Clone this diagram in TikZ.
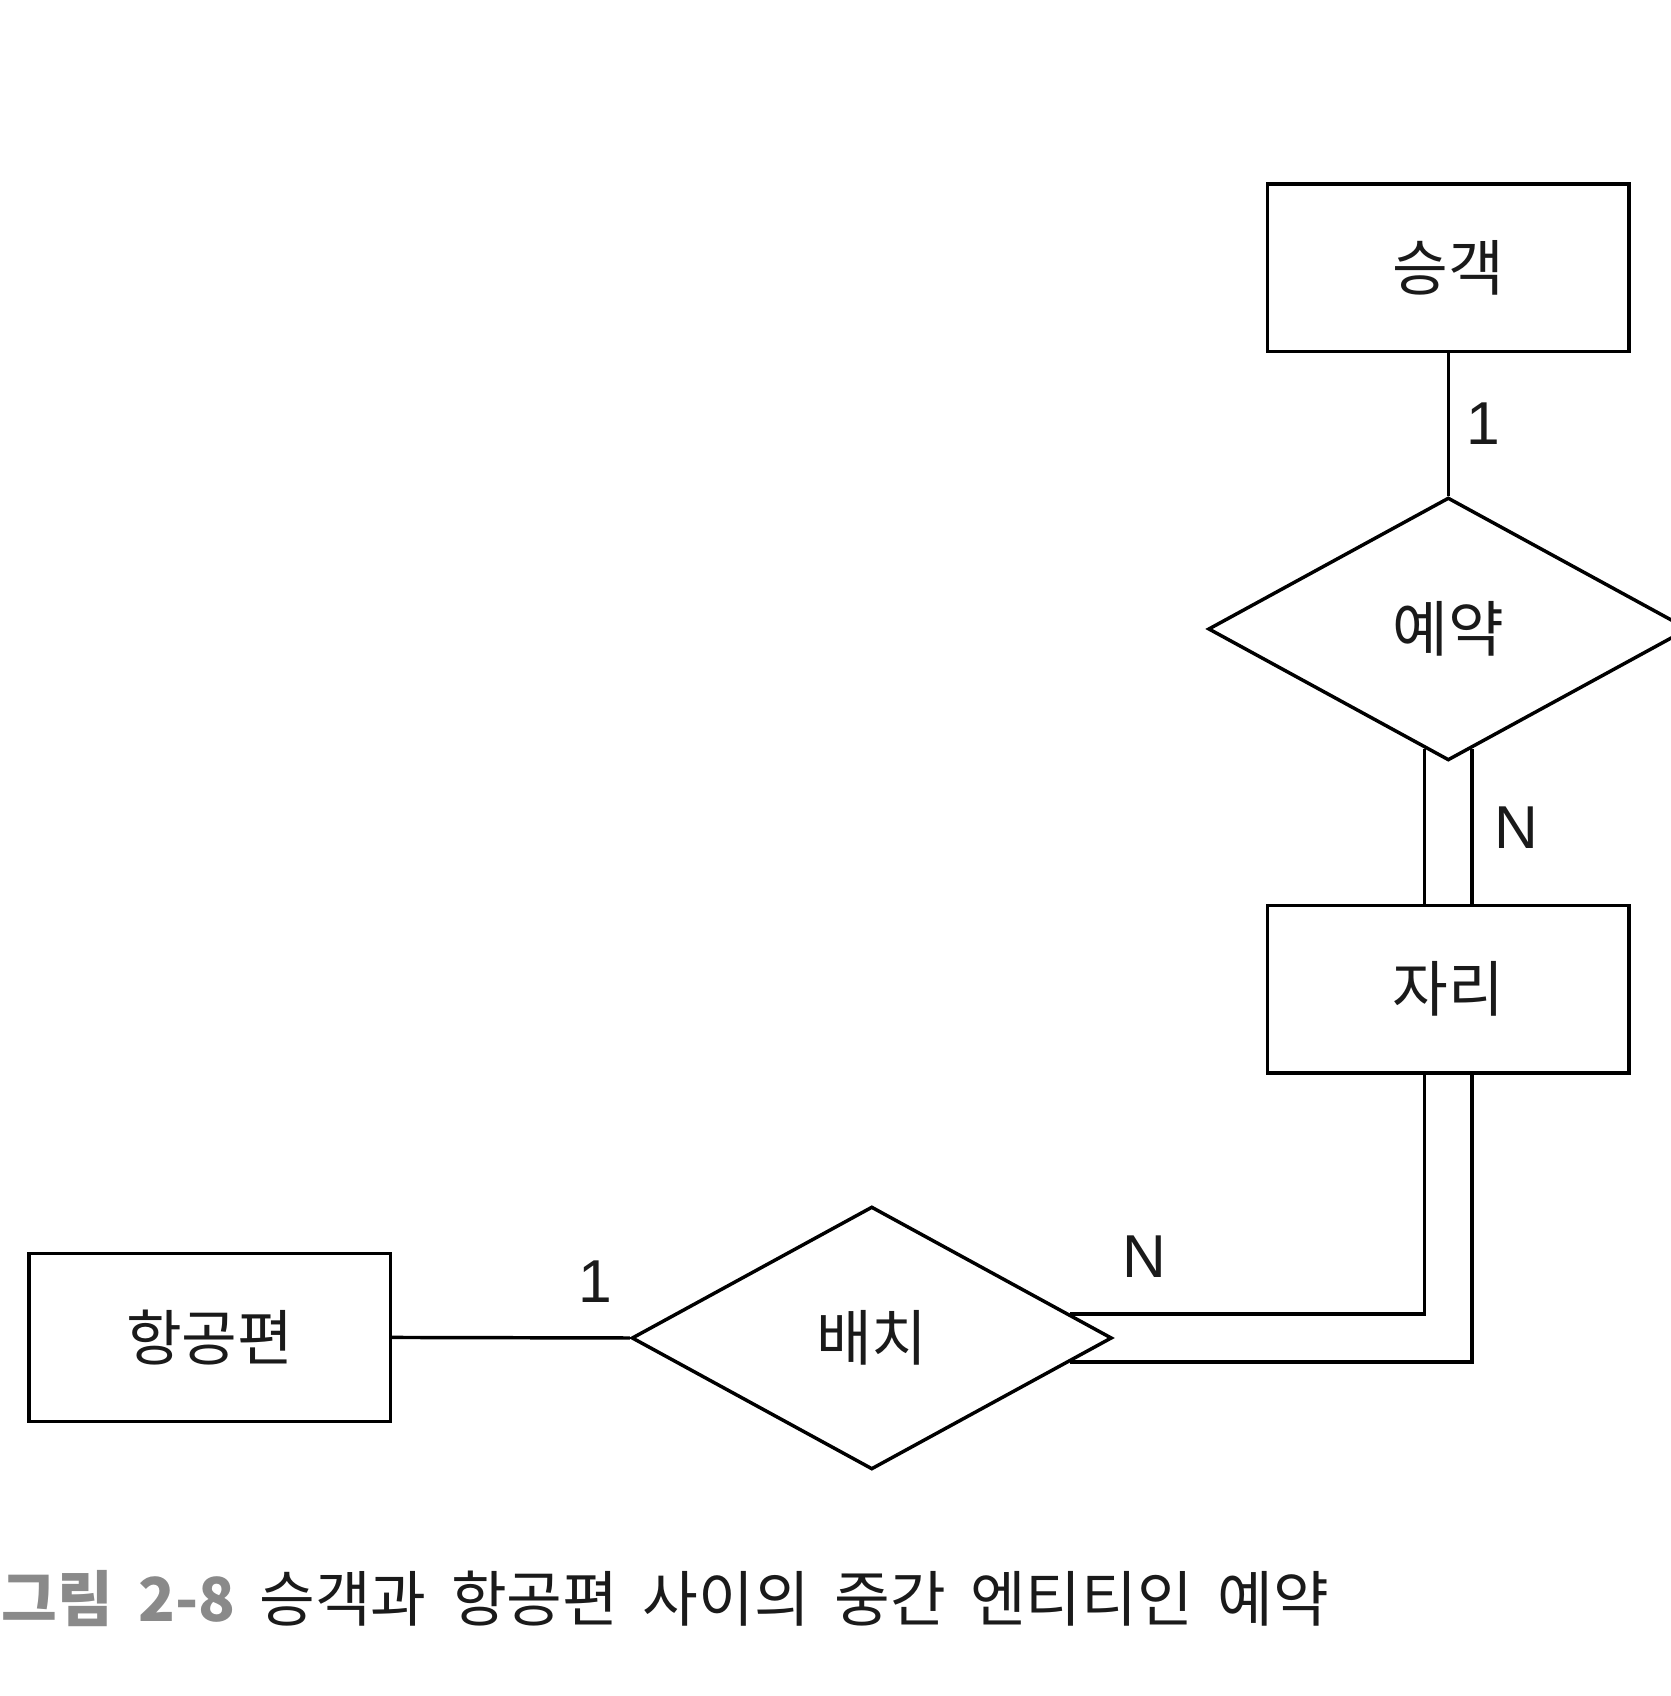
\documentclass[tikz,border=0pt]{standalone}
\usepackage{fontspec}
\setmainfont{Noto Sans CJK KR}
\newfontfamily\capfont[WordSpace=1.8]{Noto Sans CJK KR}
\newfontfamily\latinfont{Liberation Sans}
\usetikzlibrary{shapes.geometric,calc}
\definecolor{ink}{HTML}{1A1A1A}
\definecolor{capgrey}{HTML}{8A8A8A}
\begin{document}
\begin{tikzpicture}[x=0.5pt,y=-0.5pt,
  line width=1.6pt,
  every node/.style={text=ink},
  entity/.style={draw=black,line width=1.6pt,minimum width=167pt,minimum height=77.5pt,inner sep=0pt,font=\fontsize{28pt}{32pt}\selectfont},
  rel/.style={draw=black,line width=1.6pt,diamond,minimum width=222pt,minimum height=121.5pt,inner sep=0pt,font=\fontsize{28pt}{32pt}\selectfont},
  card/.style={inner sep=0pt,font=\latinfont\fontsize{28pt}{32pt}\selectfont},
  conn/.style={draw=black,line width=1.6pt}]
\useasboundingbox (0,0) rectangle (1544,1568);
\node[entity] (seung) at (1339,247.5) {승객};
\node[rel] (yeyak) at (1339,581.5) {예약};
\node[entity] (jari) at (1339,914.5) {자리};
\node[rel] (baechi) at (806,1237) {배치};
\node[entity] (hang) at (194,1236.5) {항공편};
\draw[conn] (seung.south) -- (yeyak.north);
\draw[conn] ($(yeyak.south)+(-22,-12)$) -- ($(jari.north)+(-22,0)$);
\draw[conn] ($(yeyak.south)+(22,-12)$) -- ($(jari.north)+(22,0)$);
\draw[conn] ($(jari.south)+(-22,0)$) |- ($(baechi.east)+(-40,-22)$);
\draw[conn] ($(jari.south)+(22,0)$) |- ($(baechi.east)+(-40,22)$);
\draw[conn] (hang.east) -- (baechi.west);
\node[card] (c1) at (1371,392) {1};
\node[card] (c2) at (1402,765) {N};
\node[card] (c3) at (550,1185) {1};
\node[card] (c4) at (1058,1162) {N};
\node[anchor=west,inner sep=0pt,font=\capfont\fontsize{28pt}{32pt}\selectfont] (cap) at (0,1478)
  {\textcolor{capgrey}{\textbf{그림 2-8}} 승객과 항공편 사이의 중간 엔티티인 예약};
\end{tikzpicture}
\end{document}
